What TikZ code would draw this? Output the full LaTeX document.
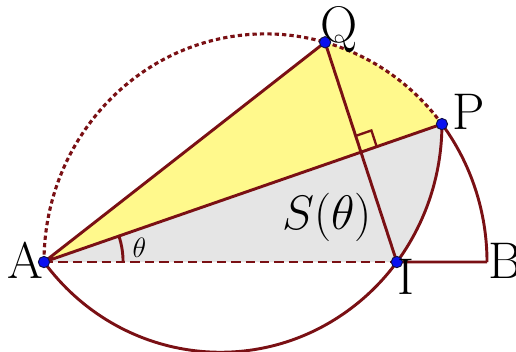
\documentclass[tikz,border=0pt]{standalone}
\usepackage{xcolor}
\definecolor{arcred}{HTML}{7A1014}
\definecolor{dotblue}{HTML}{0A10F0}
\definecolor{dotedge}{HTML}{10104A}
\definecolor{lemon}{HTML}{FFF98C}
\definecolor{greyfill}{HTML}{E5E5E5}
\usepackage{tikz}
\usetikzlibrary{calc, positioning}

\begin{document}
\begin{tikzpicture}[
  x=4cm, y=4cm, yscale=1.03,
  seg/.style={draw=arcred, line width=1.5pt},
  dashseg/.style={seg, dash pattern=on 4.8pt off 2.6pt},
  dotseg/.style={seg, line width=1.6pt, dash pattern=on 2.2pt off 1.6pt},
  dot/.style={
    circle, fill=dotblue, draw=dotedge, line width=0.5pt,
    inner sep=0pt, minimum size=5.8pt
  },
  lbl/.style={inner sep=0pt, font=\fontsize{26.5}{30}\selectfont}
]
  \useasboundingbox (-0.1986,-0.3901) rectangle (2.1309,1.1485);
  \pgfmathsetmacro{\th}{18.6}

  \coordinate (A) at (0,0);
  \coordinate (B) at (2,0);
  \coordinate (O) at (1,0);
  \coordinate (C) at ({cos(2*\th)},{sin(2*\th)});
  \coordinate (P) at ({1+cos(2*\th)},{sin(2*\th)});
  \coordinate (I) at ({2*cos(2*\th)},0);
  \coordinate (Q) at ({1+cos(4*\th)},{sin(4*\th)});
  \coordinate (H) at ($(Q)!0.5!(I)$);

  \fill[lemon] (A) -- (Q) arc[start angle={4*\th}, end angle={2*\th}, radius=1] -- cycle;
  \fill[greyfill] (A) -- (P) arc[start angle=0, end angle={-2*\th}, radius=1] -- cycle;

  \draw[dotseg] (A) arc[start angle=180, end angle={2*\th}, radius=1];
  \draw[seg] (P) arc[start angle={2*\th}, end angle=0, radius=1];
  \draw[seg] (A) arc[start angle={180+2*\th}, end angle=360, radius=1];
  \draw[seg, line join=round] (A) -- (Q) (A) -- (P) (Q) -- (I) (I) -- (B);
  \draw[dashseg] (A) -- (I);
  \draw[seg, line width=1.2pt]
    ($(H)+({0.075*cos(\th)},{0.075*sin(\th)})$)
    -- ++({-0.075*sin(\th)},{0.075*cos(\th)})
    -- ++({-0.075*cos(\th)},{-0.075*sin(\th)});
  \draw[seg] (A) ++(0.357,0) arc[start angle=0, end angle=\th, radius=0.357];

  \foreach \p in {A,P,Q,I} {
    \node[dot] (d\p) at (\p) {};
  }

  \node[lbl, anchor=base west, xshift=-2.5pt, yshift=0pt] (labQ) at (Q) {Q};
  \node[lbl, anchor=base west, xshift=5pt, yshift=-2.6pt] (labP) at (P) {P};
  \node[lbl, anchor=base east, yshift=-8.3pt] (labA) at (A) {A};
  \node[lbl, anchor=base west, xshift=0.3pt, yshift=-16.5pt] (labI) at (I) {I};
  \node[lbl, anchor=base west, xshift=0.6pt, yshift=-8.7pt] (labB) at (B) {B};
  \node[lbl] (area) at (1.278,0.197) {$S(\theta)$};
  \node[inner sep=0pt, font=\fontsize{15}{18}\selectfont] (ang) at (0.431,0.0636) {$\theta$};
\end{tikzpicture}
\end{document}
